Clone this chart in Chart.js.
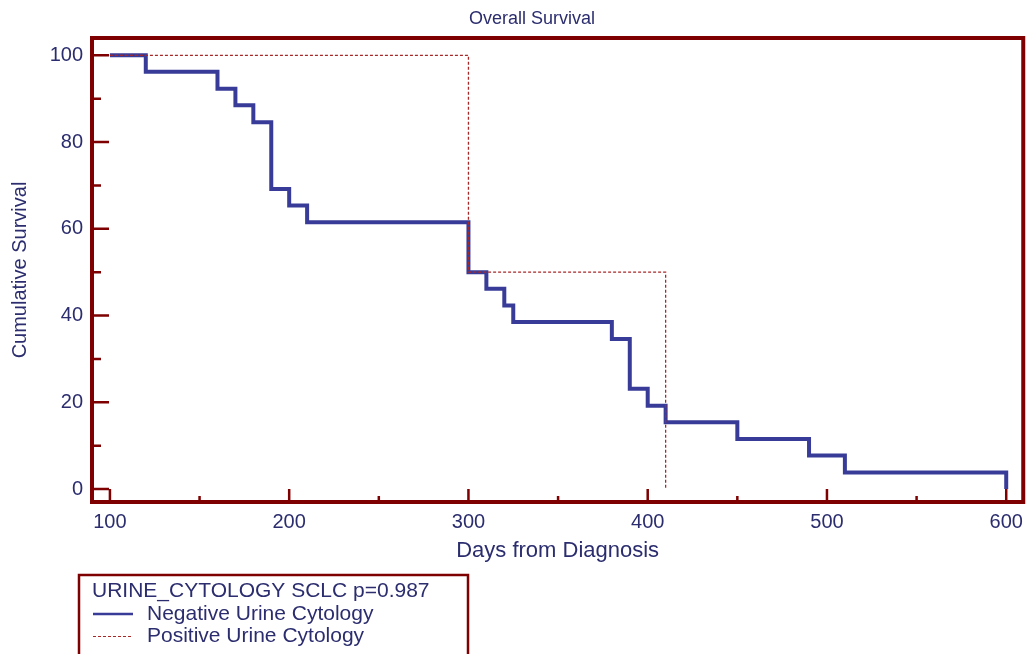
<!DOCTYPE html>
<html>
<head>
<meta charset="utf-8">
<script src="https://cdn.jsdelivr.net/npm/chart.js@4.4.1/dist/chart.umd.min.js"></script>
<style>
    html, body { margin: 0; padding: 0; background: #fff; }
    #wrap { width: 1031px; height: 654px; }
</style>
</head>
<body>
<div id="wrap"><canvas id="survivalChart" width="1031" height="654"></canvas></div>
<script>
// texts
const chartTitle = "Overall Survival";
const xTitle = "Days from Diagnosis";
const yTitle = "Cumulative Survival";
const legendTitle = "URINE_CYTOLOGY SCLC p=0.987";
const groupLabels = ["Negative Urine Cytology", "Positive Urine Cytology"];

// Kaplan-Meier steps (day of event, survival % after it)
const negDays = [100, 120, 160, 170, 180, 190, 200, 210, 300, 310, 320, 325, 380, 390, 400, 410, 450, 490, 510, 600];
const negSurvival = [100, 96.2, 92.3, 88.5, 84.6, 69.2, 65.4, 61.5, 50, 46.2, 42.3, 38.5, 34.6, 23.1, 19.2, 15.4, 11.5, 7.7, 3.8, 0];
const posDays = [100, 300, 410];
const posSurvival = [100, 50, 0];

// labelled ticks (minor ticks halfway between)
const xTickLabels = [100, 200, 300, 400, 500, 600];
const yTickLabels = [0, 20, 40, 60, 80, 100];

const textColor = "#2b2d6e";
const frameColor = "#7f0000";
const font = "'Liberation Sans', Arial, sans-serif";

function toPoints(xs, ys) {
    return xs.map((x, i) => ({ x: x, y: ys[i] }));
}

const framePlugin = {
    id: "frame",
    afterDraw(chart) {
        const ctx = chart.ctx;
        const a = chart.chartArea;
        const xs = chart.scales.x;
        const ys = chart.scales.y;
        ctx.save();
        ctx.strokeStyle = frameColor;

        // inward ticks
        ctx.lineWidth = 2.5;
        ctx.beginPath();
        ys.ticks.forEach(t => {
            const py = ys.getPixelForValue(t.value);
            const len = yTickLabels.includes(t.value) ? 17 : 9;
            ctx.moveTo(a.left, py);
            ctx.lineTo(a.left + len, py);
        });
        xs.ticks.forEach(t => {
            const px = xs.getPixelForValue(t.value);
            const len = xTickLabels.includes(t.value) ? 13 : 6;
            ctx.moveTo(px, a.bottom);
            ctx.lineTo(px, a.bottom - len);
        });
        ctx.stroke();

        // frame
        ctx.lineWidth = 4;
        ctx.strokeRect(a.left, a.top, a.right - a.left, a.bottom - a.top);

        // title
        ctx.fillStyle = textColor;
        ctx.font = "18px " + font;
        ctx.textAlign = "center";
        ctx.textBaseline = "middle";
        ctx.fillText(chartTitle, 532, 19);

        // legend box
        ctx.lineWidth = 2.5;
        ctx.strokeRect(79, 575, 389, 100);
        ctx.font = "21px " + font;
        ctx.textAlign = "left";
        ctx.fillText(legendTitle, 92, 591);
        chart.data.datasets.forEach((ds, i) => {
            const y = 614 + i * 22.5;
            ctx.save();
            ctx.strokeStyle = ds.borderColor;
            ctx.lineWidth = i === 0 ? 2.5 : 1.2;
            ctx.setLineDash(ds.borderDash || []);
            ctx.beginPath();
            ctx.moveTo(93, y);
            ctx.lineTo(133, y);
            ctx.stroke();
            ctx.restore();
            ctx.fillText(ds.label, 147, y);
        });
        ctx.restore();
    }
};

new Chart(document.getElementById("survivalChart").getContext("2d"), {
    type: "line",
    data: {
        datasets: [
            {
                label: groupLabels[0],
                data: toPoints(negDays, negSurvival),
                borderColor: "#383c98",
                borderWidth: 4,
                stepped: "before",
                pointRadius: 0,
                fill: false,
                order: 2
            },
            {
                label: groupLabels[1],
                data: toPoints(posDays, posSurvival),
                borderColor: "#a82828",
                borderWidth: 1.3,
                borderDash: [3, 2],
                stepped: "before",
                pointRadius: 0,
                fill: false,
                order: 1
            }
        ]
    },
    options: {
        responsive: false,
        animation: false,
        layout: { padding: { top: 38, right: 5, left: 0, bottom: 0 } },
        plugins: {
            legend: { display: false },
            tooltip: { enabled: false },
            title: { display: false }
        },
        scales: {
            x: {
                type: "linear",
                min: 90,
                max: 609.5,
                grid: { display: false, drawTicks: false },
                border: { display: false },
                ticks: {
                    stepSize: 50,
                    includeBounds: false,
                    autoSkip: false,
                    maxRotation: 0,
                    padding: 8,
                    color: textColor,
                    font: { family: font, size: 20 },
                    callback: v => xTickLabels.includes(v) ? String(v) : ""
                },
                title: {
                    display: true,
                    text: xTitle,
                    color: textColor,
                    font: { family: font, size: 22 },
                    padding: { top: 0, bottom: 90 }
                },
                afterFit(scale) { scale.height = 152; }
            },
            y: {
                min: -3,
                max: 104,
                grid: { display: false, drawTicks: false },
                border: { display: false },
                ticks: {
                    stepSize: 10,
                    includeBounds: false,
                    autoSkip: false,
                    padding: 9,
                    color: textColor,
                    font: { family: font, size: 20 },
                    callback: v => yTickLabels.includes(v) ? String(v) : ""
                },
                title: {
                    display: true,
                    text: yTitle,
                    color: textColor,
                    font: { family: font, size: 20 },
                    padding: { top: 8, bottom: 0 }
                },
                afterFit(scale) { scale.width = 92; }
            }
        }
    },
    plugins: [framePlugin]
});
</script>
</body>
</html>
